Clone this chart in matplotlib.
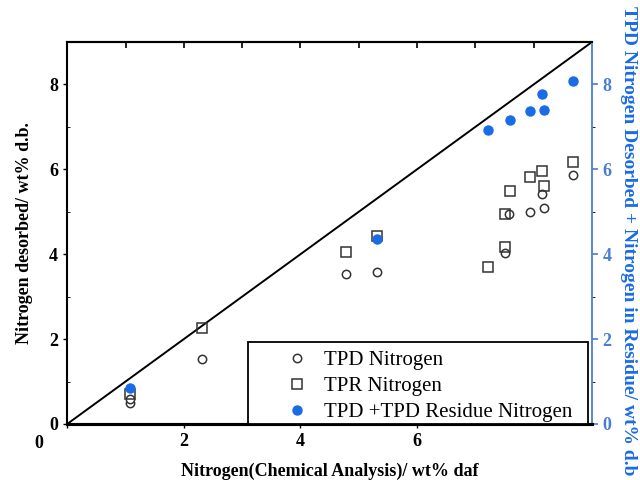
import matplotlib.pyplot as plt
import matplotlib.transforms as mtransforms
from matplotlib.patches import Rectangle

# x = nitrogen by chemical analysis (wt% daf)
tpd_x = [1.08, 1.08, 2.31, 4.78, 5.31, 7.51, 7.58, 7.93, 8.17, 8.15, 8.68]
tpd_y = [0.50, 0.60, 1.52, 3.54, 3.59, 4.04, 4.95, 5.00, 5.09, 5.42, 5.87]

tpr_x = [1.08, 2.31, 4.78, 5.31, 7.21, 7.51, 7.50, 7.60, 7.93, 8.18, 8.15, 8.68]
tpr_y = [0.70, 2.25, 4.06, 4.43, 3.71, 4.16, 4.95, 5.49, 5.82, 5.61, 5.96, 6.17]

res_x = [1.08, 5.31, 7.21, 7.60, 7.93, 8.18, 8.15, 8.68]
res_y = [0.84, 4.36, 6.92, 7.16, 7.37, 7.39, 7.77, 8.08]

xticks = [0, 2, 4, 6]
ticks = [0, 2, 4, 6, 8]
minor = [1, 3, 5, 7]

blue = '#1a6be6'
axblue = '#4a7ed6'
serif = ['Liberation Serif', 'DejaVu Serif']

plt.rcParams['font.family'] = serif

fig = plt.figure(figsize=(6.4, 4.8), dpi=100)
ax = fig.add_axes([0.105, 0.1167, 0.82, 0.7958])
ax2 = ax.twinx()

ax.plot([0, 9], [0, 9], color='black', lw=1.4)
h1, = ax.plot(tpd_x, tpd_y, 'o', mfc='white', mec='#333333', ms=6, mew=1.1,
              label='TPD Nitrogen', linestyle='none')
h2, = ax.plot(tpr_x, tpr_y, 's', mfc='none', mec='#333333', ms=7.5, mew=1.1,
              label='TPR Nitrogen', linestyle='none')
h3, = ax2.plot(res_x, res_y, 'o', color=blue, ms=6.5,
               label='TPD +TPD Residue Nitrogen', linestyle='none')

for a in (ax, ax2):
    a.set_xlim(0, 9)
    a.set_ylim(0, 9)

ax.set_xticks(xticks)
ax.set_yticks(ticks)
ax.set_yticks(minor, minor=True)
ax.tick_params(axis='both', labelsize=13, length=3, width=1, direction='out')
ax.tick_params(axis='y', which='minor', length=2, direction='in')
for lab in ax.get_xticklabels() + ax.get_yticklabels():
    lab.set_fontweight('bold')

# top ticks every unit, pointing inward
top = ax.secondary_xaxis('top')
top.set_xticks(range(1, 9))
top.tick_params(direction='in', length=4, width=1.2, labeltop=False)
top.spines['top'].set_visible(False)

# the stray "0" on the x axis sits left of the corner
off = mtransforms.ScaledTranslation(-0.28, -0.02, fig.dpi_scale_trans)
xl0 = ax.get_xticklabels()[0]
xl0.set_transform(xl0.get_transform() + off)

ax2.set_yticks(ticks)
ax2.set_yticks(minor, minor=True)
ax2.tick_params(axis='y', colors=axblue, labelsize=13, length=4, width=1.2)
ax2.tick_params(axis='y', which='minor', length=2)
for lab in ax2.get_yticklabels():
    lab.set_fontweight('bold')
ax2.spines['right'].set_color(axblue)
ax2.spines['right'].set_linewidth(1.3)

for s in ['left', 'bottom', 'top']:
    ax.spines[s].set_linewidth(1.5)
ax.spines['bottom'].set_linewidth(2.2)
ax.spines['right'].set_visible(False)
ax2.spines['left'].set_visible(False)
ax2.spines['top'].set_linewidth(1.5)
ax2.spines['bottom'].set_linewidth(2.2)

ax.set_xlabel('Nitrogen(Chemical Analysis)/ wt% daf', fontsize=13,
              fontweight='bold', labelpad=8)
ax.set_ylabel('Nitrogen desorbed/ wt% d.b.', fontsize=13, fontweight='bold',
              labelpad=12)
ax2.set_ylabel('TPD Nitrogen Desorbed + Nitrogen in Residue/ wt% d.b',
               fontsize=14, fontweight='bold', color=blue, rotation=-90,
               labelpad=15)
ax2.yaxis.set_label_coords(1.085, 0.48)

# legend box
ax2.add_patch(Rectangle((0.345, 0.0), 0.648, 0.215, transform=ax2.transAxes,
                        facecolor='white', edgecolor='black', lw=1.3,
                        zorder=5, clip_on=False))
leg = ax2.legend(handles=[h1, h2, h3], loc='upper left',
                 bbox_to_anchor=(0.418, 0.192), frameon=False,
                 fontsize=15, borderpad=0, labelspacing=0.3,
                 handletextpad=0.8, borderaxespad=0, handlelength=1.0)
leg.set_zorder(6)

fig.savefig('out.png', dpi=100)
